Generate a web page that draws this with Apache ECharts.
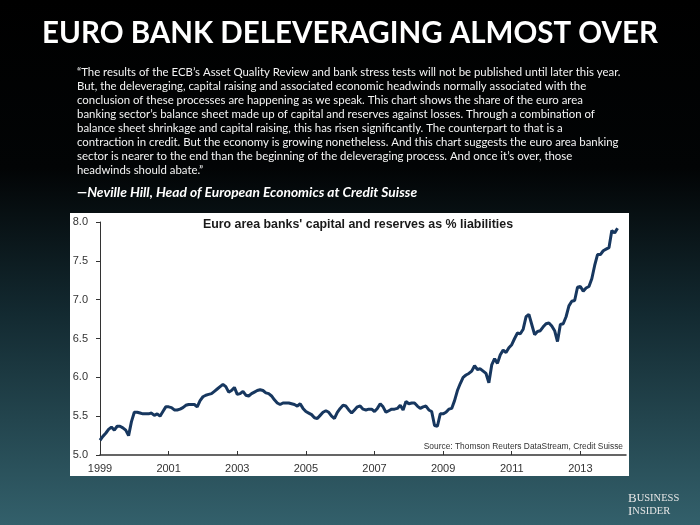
<!DOCTYPE html>
<html>
<head>
<meta charset="utf-8">
<script src="https://cdn.jsdelivr.net/npm/echarts@6/dist/echarts.min.js"></script>
<style>
html,body{margin:0;padding:0;background:#000;}
#chart{width:700px;height:525px;}
</style>
</head>
<body>
<div id="chart"></div>
<script>
// ---- data (monthly, starting Jan 1999) ----
const startYear = 1999;
const capitalRatio = [
  // 1999
  5.19, 5.24, 5.28, 5.33, 5.36, 5.32, 5.37, 5.37, 5.35, 5.32, 5.25, 5.43,
  // 2000
  5.55, 5.55, 5.54, 5.53, 5.53, 5.53, 5.54, 5.51, 5.53, 5.50, 5.56, 5.62,
  // 2001
  5.62, 5.61, 5.58, 5.58, 5.59, 5.61, 5.64, 5.65, 5.65, 5.65, 5.62, 5.70,
  // 2002
  5.75, 5.77, 5.78, 5.79, 5.82, 5.85, 5.88, 5.91, 5.88, 5.81, 5.83, 5.87,
  // 2003
  5.78, 5.79, 5.82, 5.77, 5.76, 5.79, 5.81, 5.83, 5.84, 5.83, 5.80, 5.79,
  // 2004
  5.76, 5.71, 5.67, 5.65, 5.67, 5.67, 5.67, 5.66, 5.65, 5.63, 5.66, 5.60,
  // 2005
  5.56, 5.54, 5.52, 5.48, 5.47, 5.51, 5.55, 5.57, 5.55, 5.50, 5.47, 5.55,
  // 2006
  5.60, 5.64, 5.63, 5.58, 5.54, 5.58, 5.62, 5.63, 5.59, 5.58, 5.59, 5.59,
  // 2007
  5.56, 5.60, 5.66, 5.62, 5.55, 5.57, 5.59, 5.59, 5.60, 5.64, 5.58, 5.69,
  // 2008
  5.66, 5.67, 5.67, 5.63, 5.60, 5.62, 5.63, 5.58, 5.56, 5.38, 5.37, 5.53,
  // 2009
  5.53, 5.55, 5.59, 5.60, 5.70, 5.83, 5.92, 6.00, 6.03, 6.05, 6.08, 6.15,
  // 2010
  6.10, 6.11, 6.08, 6.05, 5.93, 6.16, 6.24, 6.18, 6.29, 6.35, 6.32, 6.38,
  // 2011
  6.42, 6.50, 6.57, 6.56, 6.62, 6.78, 6.81, 6.68, 6.55, 6.59, 6.60, 6.65,
  // 2012
  6.69, 6.70, 6.66, 6.60, 6.46, 6.68, 6.69, 6.78, 6.92, 6.98, 6.99, 7.16,
  // 2013
  7.17, 7.11, 7.15, 7.17, 7.27, 7.44, 7.58, 7.58, 7.63, 7.65, 7.67, 7.89,
  // 2014
  7.86, 7.92
];
const xTickYears = [1999, 2001, 2003, 2005, 2007, 2009, 2011, 2013];
const yMin = 5.0, yMax = 8.0, yStep = 0.5;
const xMin = 1999, xMax = 2014.33;

const titleText = 'EURO BANK DELEVERAGING ALMOST OVER';
const quoteLines = [
  '\u201CThe results of the ECB\u2019s Asset Quality Review and bank stress tests will not be published until later this year.',
  'But, the deleveraging, capital raising and associated economic headwinds normally associated with the',
  'conclusion of these processes are happening as we speak. This chart shows the share of the euro area',
  'banking sector\u2019s balance sheet made up of capital and reserves against losses. Through a combination of',
  'balance sheet shrinkage and capital raising, this has risen significantly. The counterpart to that is a',
  'contraction in credit. But the economy is growing nonetheless. And this chart suggests the euro area banking',
  'sector is nearer to the end than the beginning of the deleveraging process. And once it\u2019s over, those',
  'headwinds should abate.\u201D'
];
const attribution = '\u2014Neville Hill, Head of European Economics at Credit Suisse';
const chartTitle = "Euro area banks' capital and reserves as % liabilities";
const sourceText = 'Source: Thomson Reuters DataStream, Credit Suisse';

// ---- build ----
const seriesData = capitalRatio.map((v, i) => [startYear + i / 12, v]);

const graphics = [];
graphics.push({
  type: 'rect', z: -10, silent: true,
  shape: { x: 70, y: 213, width: 559, height: 263 },
  style: { fill: '#ffffff' }
});
graphics.push({
  type: 'text', x: 350, y: 33,
  style: { text: titleText, fill: '#ffffff', font: 'bold 29.5px Lato, "Open Sans", sans-serif', align: 'center', verticalAlign: 'middle' }
});
quoteLines.forEach((line, i) => {
  graphics.push({
    type: 'text', x: 77, y: 72 + i * 14.1,
    style: { text: line, fill: '#f4f4f4', font: '11.4px Lato, "Open Sans", sans-serif', verticalAlign: 'middle' }
  });
});
graphics.push({
  type: 'text', x: 77, y: 193,
  style: { text: attribution, fill: '#ffffff', font: 'italic bold 13.8px Lato, "Open Sans", sans-serif', verticalAlign: 'middle' }
});
graphics.push({
  type: 'text', x: 358, y: 225, z: 10,
  style: { text: chartTitle, fill: '#1a1a1a', font: 'bold 12.4px "Liberation Sans", Arial, sans-serif', align: 'center', verticalAlign: 'middle' }
});
graphics.push({
  type: 'text', x: 623, y: 447, z: 10,
  style: { text: sourceText, fill: '#333333', font: '8.4px "Liberation Sans", Arial, sans-serif', align: 'right', verticalAlign: 'middle' }
});
graphics.push({
  type: 'text', x: 628, y: 492,
  style: {
    text: '{b|B}{r|USINESS}\n{b|I}{r|NSIDER}',
    lineHeight: 13,
    rich: {
      b: { fill: '#e6e6e6', font: '13px "Liberation Serif", "DejaVu Serif", serif', lineHeight: 13 },
      r: { fill: '#e6e6e6', font: '10.5px "Liberation Serif", "DejaVu Serif", serif', lineHeight: 13 }
    }
  }
});

const chart = echarts.init(document.getElementById('chart'), null, { renderer: 'canvas' });
chart.setOption({
  animation: false,
  backgroundColor: {
    type: 'linear', x: 0, y: 0, x2: 0, y2: 1,
    colorStops: [
      { offset: 0, color: '#000000' },
      { offset: 0.32, color: '#020405' },
      { offset: 0.6, color: '#132a31' },
      { offset: 1, color: '#33606b' }
    ]
  },
  graphic: graphics,
  grid: { left: 100, top: 222, width: 526, height: 233, containLabel: false },
  xAxis: {
    type: 'value', min: xMin, max: xMax,
    axisLine: { show: true, lineStyle: { color: '#333333', width: 1.5 } },
    axisTick: { show: true, inside: true, length: 4, customValues: xTickYears, lineStyle: { color: '#333333' } },
    axisLabel: { customValues: xTickYears, color: '#333333', fontSize: 11, fontFamily: '"Liberation Sans", Arial, sans-serif', margin: 8, formatter: v => String(Math.round(v)) },
    splitLine: { show: false }
  },
  yAxis: {
    type: 'value', min: yMin, max: yMax, interval: yStep,
    axisLine: { show: true, lineStyle: { color: '#333333', width: 1 } },
    axisTick: { show: true, inside: false, length: 4, lineStyle: { color: '#333333' } },
    axisLabel: { color: '#333333', fontSize: 11, fontFamily: '"Liberation Sans", Arial, sans-serif', margin: 12, formatter: v => v.toFixed(1) },
    splitLine: { show: false }
  },
  series: [{
    type: 'line', data: seriesData, showSymbol: false,
    lineStyle: { color: '#17375f', width: 3 },
    z: 3
  }]
});
</script>
</body>
</html>
